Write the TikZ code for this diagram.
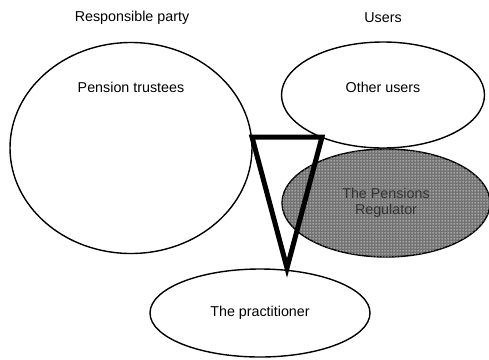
\documentclass[tikz,border=0pt]{standalone}
\usepackage{fontspec}
\setmainfont{Liberation Sans}
\usetikzlibrary{shapes.geometric,patterns}
% light square dots on a 3pt grid
\pgfdeclarepatternformonly{squaredots}{\pgfpointorigin}{\pgfpoint{3pt}{3pt}}{\pgfpoint{3pt}{3pt}}{%
  \pgfpathrectangle{\pgfpoint{0.8pt}{0.8pt}}{\pgfpoint{1.4pt}{1.4pt}}%
  \pgfusepath{fill}}
\begin{document}
\begin{tikzpicture}[x=1pt,y=-1pt,
  party/.style={draw=black,line width=1.4pt,ellipse,inner sep=0pt},
  caption/.style={font=\fontsize{14.3}{16.5}\selectfont,align=center,inner sep=0pt}]
  \useasboundingbox (0,0) rectangle (489,359);
  % headings
  \node[caption] (hresp) at (132,18) {Responsible party};
  \node[caption] (husers) at (383,18) {Users};
  % parties
  \node[party,minimum width=242pt,minimum height=211pt] (trustees) at (131,148) {};
  \node[party,minimum width=203pt,minimum height=106pt] (others) at (383,95) {};
  \node[party,minimum width=208pt,minimum height=108pt,fill=black!55,
        postaction={pattern=squaredots,pattern color=white!85!gray}] (regulator) at (386,203) {};
  \node[party,minimum width=220pt,minimum height=88pt,fill=white] (practitioner) at (260,313) {};
  % labels
  \node[caption] (ltrustees) at (131,87) {Pension trustees};
  \node[caption] (lothers) at (383,87) {Other users};
  \node[caption,text=black!80] (lregulator) at (386,203) {The Pensions\\Regulator};
  \node[caption] (lpractitioner) at (260,313) {The practitioner};
  % three-party triangle
  \coordinate (tl) at (252,137);
  \coordinate (tr) at (322,137);
  \coordinate (tb) at (287,268);
  \draw[line width=5pt,line join=miter] (tl) -- (tr) -- (tb) -- cycle;
\end{tikzpicture}
\end{document}
